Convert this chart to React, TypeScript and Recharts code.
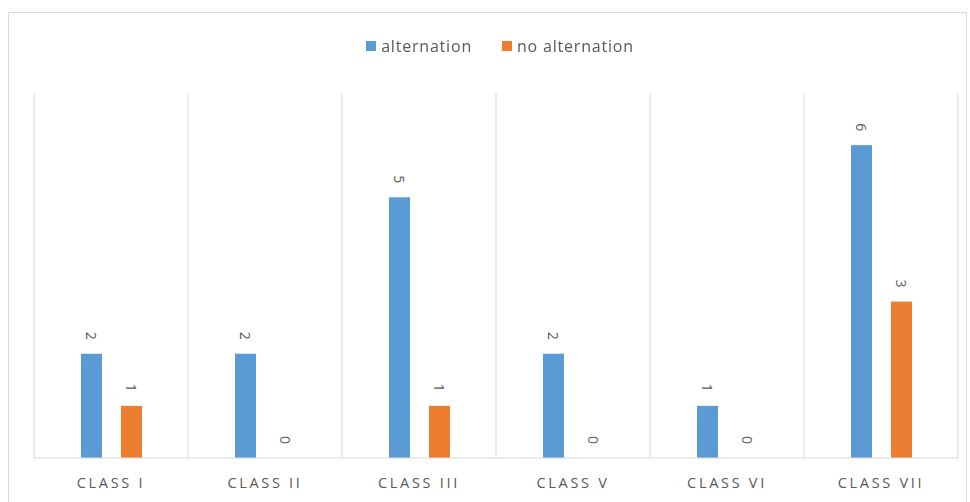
import React from 'react';
import { BarChart, Bar, XAxis, YAxis, CartesianGrid, Legend } from 'recharts';

const categories = ['CLASS I', 'CLASS II', 'CLASS III', 'CLASS V', 'CLASS VI', 'CLASS VII'];
const alternation = [2, 2, 5, 2, 1, 6];
const noAlternation = [1, 0, 1, 0, 0, 3];

const data = categories.map((name, i) => ({
    name,
    alternation: alternation[i],
    noAlternation: noAlternation[i],
}));

const FONT = '"Open Sans", "Noto Sans", sans-serif';
const TEXT = '#595959';

// bar plus its rotated value label (also drawn for zero-height bars)
const LabeledBar = (props: any) => {
    const { x, y, width, height, fill, value } = props;
    const v = Array.isArray(value) ? value[1] - value[0] : value;
    const cx = x + width / 2;
    const cy = y - 18;
    return (
        <g>
            {height > 0 && <rect x={x} y={y} width={width} height={height} fill={fill} />}
            <text
                x={cx}
                y={cy}
                transform={`rotate(90, ${cx}, ${cy})`}
                textAnchor="middle"
                dominantBaseline="central"
                fill={TEXT}
                fontSize={14}
                fontFamily={FONT}
            >
                {v}
            </text>
        </g>
    );
};

const LegendContent = (props: any) => {
    const { payload } = props;
    return (
        <div style={{ display: 'flex', justifyContent: 'center', gap: 30, fontFamily: FONT, fontSize: 16, letterSpacing: 0.8, color: TEXT }}>
            {payload.map((p: any) => (
                <div key={p.value} style={{ display: 'flex', alignItems: 'center' }}>
                    <span style={{ width: 10, height: 10, background: p.color, marginRight: 5, display: 'inline-block' }} />
                    <span>{p.value}</span>
                </div>
            ))}
        </div>
    );
};

export default function App() {
    return (
        <div>
            <div
                style={{
                    position: 'fixed',
                    left: 8,
                    top: 12,
                    width: 959,
                    height: 500,
                    border: '1px solid #d9d9d9',
                    boxSizing: 'border-box',
                    background: '#fff',
                }}
            />
            <div style={{ position: 'fixed', left: 0, top: 0 }}>
                <BarChart
                    width={970}
                    height={502}
                    data={data}
                    margin={{ top: 93, right: 12, bottom: 14, left: 34 }}
                    barSize={21}
                    barGap={19}
                >
                    <CartesianGrid
                        horizontal={false}
                        stroke="#d9d9d9"
                        verticalCoordinatesGenerator={({ offset }: any) =>
                            categories.map((_, i) => offset.left + (i * offset.width) / categories.length).concat(offset.left + offset.width)
                        }
                    />
                    <XAxis
                        dataKey="name"
                        height={30}
                        axisLine={{ stroke: '#d9d9d9' }}
                        tickLine={false}
                        tick={{ fill: TEXT, fontSize: 14.5, fontFamily: FONT, letterSpacing: 2.7 }}
                        tickMargin={14}
                    />
                    <YAxis hide domain={[0, 7]} />
                    <Legend
                        verticalAlign="middle"
                        content={<LegendContent />}
                        wrapperStyle={{ top: 35, left: 15, width: 970 }}
                    />
                    <Bar dataKey="alternation" name="alternation" fill="#5B9BD5" isAnimationActive={false} shape={<LabeledBar />} />
                    <Bar dataKey="noAlternation" name="no alternation" fill="#ED7D31" isAnimationActive={false} shape={<LabeledBar />} />
                </BarChart>
            </div>
        </div>
    );
}
